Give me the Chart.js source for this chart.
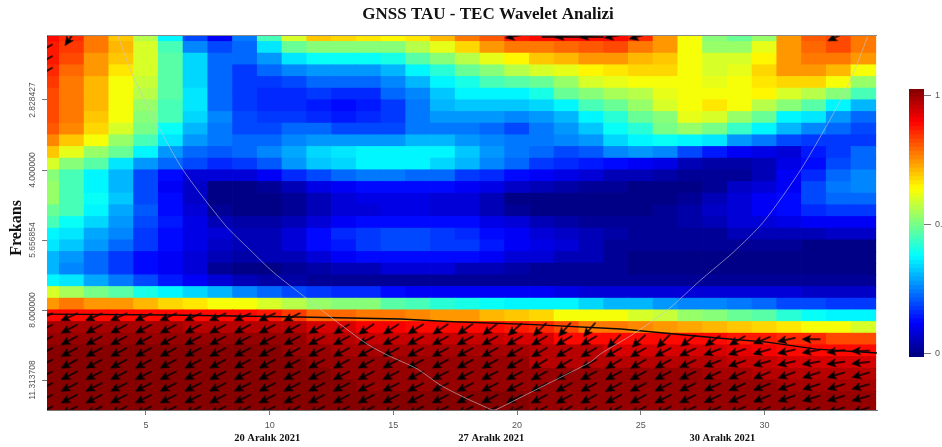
<!DOCTYPE html>
<html lang="tr">
<head>
<meta charset="utf-8">
<title>GNSS TAU - TEC Wavelet Analizi</title>
<script src="https://cdn.jsdelivr.net/npm/chart.js@4/dist/chart.umd.min.js"></script>
<style>
  html, body { margin: 0; padding: 0; background: #fff; overflow: hidden; }
  #kap { position: relative; width: 942px; height: 447px; }
  canvas { position: absolute; top: 0; display: block; filter: blur(0.5px); }
  #grafik { left: 0; }
  #lejant { left: 895px; }
</style>
</head>
<body>
<div id="kap">
  <canvas id="grafik" width="942" height="447"></canvas>
  <canvas id="lejant" width="47" height="447"></canvas>
</div>
<script>
// ==============================
// VERILER
// ==============================
const baslik = "GNSS TAU - TEC Wavelet Analizi";
const eksenBasligi = "Frekans";

const xTikleri = [5, 10, 15, 20, 25, 30];
const yTikleri = [1.5, 2, 2.5, 3, 3.5]; // log2(periyot)
const yTikEtiketleri = ["2.828427", "4.000000", "5.656854", "8.000000", "11.313708"];

const tarihEtiketleri = ["20 Aralık 2021", "27 Aralık 2021", "30 Aralık 2021"];
const tarihKonumlari = [9.9, 18.96, 28.3];

const lejantTikleri = [0, 0.5, 1];

// guc degerleri (yuzde), satirlar yukaridan asagi, 34 sutun
const guc = [
  [86,83,75,68,55,37,19,12,24,44,59,68,67,65,63,65,70,76,79,85,87,87,87,86,83,73,62,51,47,53,72,79,81,76],
  [85,82,76,70,58,44,26,19,22,35,47,51,51,50,50,55,60,66,72,75,76,78,79,80,76,72,62,53,53,60,72,78,80,75],
  [85,80,73,68,58,46,34,22,22,27,35,38,38,38,40,46,50,55,60,64,68,70,73,72,70,68,62,58,58,64,72,76,75,72],
  [83,78,72,65,58,46,34,22,18,22,25,27,27,27,31,36,42,47,51,55,58,60,64,65,66,66,62,58,60,66,72,73,70,62],
  [82,76,70,62,57,46,34,22,18,18,20,22,22,22,25,31,36,40,44,46,48,53,58,60,62,62,62,60,62,65,66,66,61,53],
  [81,76,70,62,55,46,35,23,18,17,17,18,17,17,22,25,32,36,37,37,40,47,51,54,56,60,62,62,62,64,58,55,50,44],
  [81,76,70,62,53,45,35,23,18,16,16,15,14,15,18,24,30,32,32,32,33,37,44,48,53,58,62,65,62,55,50,46,37,31],
  [80,76,68,62,51,45,33,25,20,18,18,16,15,16,18,24,27,27,27,25,27,31,37,41,47,51,60,58,53,47,37,35,27,22],
  [79,74,66,58,49,38,30,24,20,20,22,22,20,20,20,24,24,24,22,20,24,27,32,39,42,49,52,49,43,37,30,25,22,19],
  [74,68,62,53,44,35,27,24,23,23,25,27,27,28,28,30,30,27,25,24,24,25,27,34,37,38,37,35,27,24,20,18,18,18],
  [68,60,53,47,37,28,23,21,23,25,29,33,35,36,36,36,36,32,27,24,22,20,21,25,27,25,20,15,12,10,9,15,18,22],
  [58,51,46,35,27,22,20,17,18,21,27,32,34,36,37,36,34,30,25,22,18,16,15,14,12,10,6,4,4,5,10,13,19,23],
  [51,45,37,30,20,13,9,8,9,12,16,20,22,24,24,23,22,18,16,13,12,10,8,6,5,4,3,3,2,6,11,16,23,25],
  [52,45,37,30,20,12,7,1,1,2,6,10,12,13,13,13,13,12,10,7,5,4,3,2,1,1,1,2,7,9,12,19,24,25],
  [52,45,38,32,20,13,7,1,0,0,2,5,8,10,10,10,9,8,5,1,1,0,0,0,1,1,2,5,9,11,13,20,22,23],
  [48,45,37,29,21,14,8,3,1,1,2,5,8,9,10,10,9,8,5,3,1,1,0,1,1,2,4,7,9,12,13,17,18,18],
  [44,38,33,27,20,15,10,5,4,4,6,9,12,14,14,14,14,13,10,8,5,4,3,3,3,3,4,5,8,9,10,11,11,12],
  [37,35,29,25,18,13,10,8,6,6,8,13,17,18,19,20,18,17,14,11,9,7,5,4,3,3,3,3,5,5,6,6,7,7],
  [35,32,27,22,18,14,10,7,5,6,8,13,15,18,19,20,18,18,15,12,10,8,5,3,2,2,2,3,2,3,3,1,1,1],
  [31,27,22,18,14,11,8,5,4,5,6,9,11,13,14,14,14,13,11,9,8,6,5,3,1,1,1,1,1,1,1,1,0,0],
  [31,26,22,18,14,12,8,2,1,1,2,4,5,6,8,8,8,6,5,4,3,2,2,2,1,1,1,1,1,1,1,1,1,1],
  [37,35,29,24,19,15,12,9,5,4,4,3,2,2,2,2,2,2,2,2,2,2,2,2,2,2,2,2,2,2,2,2,3,3],
  [58,54,49,46,40,37,33,30,25,22,20,18,17,16,14,12,12,12,11,11,11,10,9,9,9,9,9,9,8,8,8,7,7,7],
  [73,76,73,72,70,66,65,62,61,58,55,52,50,50,46,44,42,40,39,37,37,36,33,30,30,27,25,25,24,22,20,19,18,18],
  [87,87,87,87,87,87,87,87,86,85,82,78,77,76,75,74,73,72,70,68,66,62,62,61,58,57,53,50,47,46,42,39,37,37],
  [96,96,96,96,96,96,95,94,94,94,94,91,91,89,89,87,87,87,86,85,83,80,76,75,74,73,71,70,68,67,65,62,62,58],
  [98,98,98,98,98,98,98,98,98,98,98,95,94,93,93,93,93,93,93,92,91,87,87,87,87,87,87,86,85,85,83,83,80,80],
  [99,99,99,99,99,99,99,99,99,99,98,97,96,96,96,96,96,96,96,96,94,94,94,92,92,92,91,91,90,89,87,87,87,87],
  [99,99,99,99,99,99,99,99,99,99,99,98,97,97,97,97,97,97,97,97,95,95,95,95,95,94,94,94,93,93,92,91,91,91],
  [99,99,99,99,99,99,99,99,99,99,99,99,98,98,98,98,98,98,98,98,97,97,97,97,97,97,97,96,96,95,95,94,94,94],
  [99,99,99,99,99,99,99,99,99,99,99,99,99,98,98,98,98,98,98,98,98,98,98,98,98,98,98,97,97,97,96,96,96,96],
  [99,99,99,99,99,99,99,99,99,99,99,99,99,99,99,99,99,99,99,99,98,98,98,98,98,98,98,98,98,97,97,97,97,97],
  [99,99,99,99,99,99,99,99,99,99,99,99,99,99,99,99,99,99,99,99,98,98,98,98,98,98,98,98,98,97,97,97,97,97],
];

// etki konisi (gri cizgi)
const koniX = [3.87,4.48,5.45,6.5,8.2,9.21,10.14,11.52,12.57,13.94,14.75,15.97,16.9,17.83,19,19.12,20.01,21.87,22.97,23.37,24.7,26.08,27.42,28.75,29.96,31.46,32.8,33.48,34.17];
const koniY = [1.043,1.329,1.671,2,2.393,2.571,2.729,2.921,3.064,3.243,3.321,3.421,3.536,3.621,3.714,3.714,3.636,3.471,3.371,3.314,3.171,3,2.786,2.586,2.371,2,1.593,1.357,1.05];

// anlamlilik konturu (siyah cizgi)
const konturX = [1,6,11.2,15.3,17.2,20.7,24.2,25.5,28.1,30.1,32.1,34.55];
const konturY = [3.029,3.036,3.05,3.064,3.082,3.104,3.136,3.157,3.2,3.229,3.279,3.307];
const ustKonturX = [21,23.5];
const ustKonturY = [1.05,1.05];

// oklar: her sutunda okun basladigi satir ve aci (derece, yatayin altina)
const okIlkSatir = [24,24,24,24,24,24,24,24,24,24,24,25,25,25,25,25,25,25,25,25,25,25,25,26,26,26,26,26,26,26,26,26,27,27];
const okIlkAci  = [24,24,24,24,24,24,24,24,24,25,26,30,32,34,33,32,33,35,38,42,45,48,50,45,43,45,37,35,30,22,12,0,8,2];
const okOrtaAci = [28,28,28,28,28,28,28,28,28,28,28,28,28,28,28,28,28,28,29,30,30,30,30,30,30,28,25,21,19,16,13,10,8,6];
const okAltAci  = [27,27,27,27,27,27,27,27,27,27,27,27,27,27,27,27,27,27,27,27,28,28,28,28,28,27,26,25,24,22,20,18,17,16];

// ust kenardaki tek tuk oklar
const ustOkSutun = [1,1,1,1,2,20,22,23,24,25,33];
const ustOkSatir = [0,1,2,3,0,0,0,0,0,0,0];
const ustOkAci   = [30,30,30,30,55,10,8,8,10,15,25];

// ==============================
// YARDIMCILAR
// ==============================
const satirMerkez = (satir) => (12.5 + satir) / 12;

// 64 seviyeli jet renk skalasi
function jetRenk(seviye) {
  const t = (seviye + 0.5) / 64;
  const kanal = (d) => Math.round(255 * Math.max(0, Math.min(1, 1.5 - Math.abs(4 * t - d))));
  return `rgb(${kanal(3)},${kanal(2)},${kanal(1)})`;
}
function degerRengi(yuzde) {
  return jetRenk(Math.min(63, Math.floor((yuzde / 100) * 64)));
}

// hucreler: hafif tasma birakiyorum ki aralarinda beyaz cizgi olmasin
const hucreler = [];
guc.forEach((satir, r) => {
  satir.forEach((deger, c) => {
    hucreler.push({
      x: c + 1,
      y: [satirMerkez(r) - 1 / 24 - 0.004, satirMerkez(r) + 1 / 24 + 0.004],
      v: deger,
    });
  });
});

const oklar = [];
ustOkSutun.forEach((c, i) => {
  oklar.push({ x: c, y: satirMerkez(ustOkSatir[i]), aci: ustOkAci[i] });
});
okIlkSatir.forEach((ilk, i) => {
  for (let r = ilk; r < guc.length; r++) {
    let aci = okOrtaAci[i];
    if (r === ilk) aci = okIlkAci[i];
    else if (r >= 29) aci = okAltAci[i];
    oklar.push({ x: i + 1, y: satirMerkez(r), aci });
  }
});

// ok resmi, sola bakiyor. Chart.js bunu pointStyle olarak cevirerek ciziyor
function okResmi() {
  const c = document.createElement("canvas");
  c.width = 44;
  c.height = 44;
  const g = c.getContext("2d");
  g.translate(22, 22);
  g.fillStyle = "#000";
  g.strokeStyle = "#000";
  g.lineWidth = 1.5;
  g.beginPath();
  g.moveTo(-6, 0);
  g.lineTo(6.5, 0);
  g.stroke();
  g.beginPath();
  g.moveTo(-12.5, 0);
  g.lineTo(-2.5, -4.5);
  g.lineTo(-5, 0);
  g.lineTo(-2.5, 4.5);
  g.closePath();
  g.fill();
  return c;
}

const noktalar = (xler, yler) => xler.map((x, i) => ({ x, y: yler[i] }));

// ==============================
// EK CIZIMLER
// ==============================
const kenarVeMetin = {
  id: "kenarVeMetin",
  afterLayout(chart) {
    // baslik plot alaninin ortasinda degil, biraz sagda
    chart.titleBlock.left = 99;
  },
  afterDraw(chart) {
    const { ctx, chartArea: a, scales } = chart;
    ctx.save();
    ctx.strokeStyle = "#8a8a8a";
    ctx.lineWidth = 1;
    ctx.beginPath();
    ctx.moveTo(a.left, a.top - 0.5);
    ctx.lineTo(a.right, a.top - 0.5);
    ctx.stroke();

    ctx.fillStyle = "#111";
    ctx.textAlign = "center";
    ctx.textBaseline = "middle";
    ctx.font = "bold 10.5px 'Liberation Serif'";
    tarihEtiketleri.forEach((yazi, i) => {
      ctx.fillText(yazi, scales.x.getPixelForValue(tarihKonumlari[i]), 438.5);
    });

    ctx.translate(17, 228);
    ctx.rotate(-Math.PI / 2);
    ctx.font = "bold 16px 'Liberation Serif'";
    ctx.fillText(eksenBasligi, 0, 0);
    ctx.restore();
  },
};

// ==============================
// ANA GRAFIK
// ==============================
new Chart(document.getElementById("grafik"), {
  type: "bar",
  plugins: [kenarVeMetin],
  data: {
    datasets: [
      {
        type: "line",
        order: 0,
        data: noktalar(koniX, koniY),
        borderColor: "rgba(200,200,210,0.6)",
        borderWidth: 1,
        pointRadius: 0,
        tension: 0.25,
      },
      {
        type: "line",
        order: 1,
        data: noktalar(konturX, konturY),
        borderColor: "#0a0a0a",
        borderWidth: 1.4,
        pointRadius: 0,
      },
      {
        type: "line",
        order: 1,
        data: noktalar(ustKonturX, ustKonturY),
        borderColor: "#0a0a0a",
        borderWidth: 1.4,
        pointRadius: 0,
      },
      {
        type: "scatter",
        order: 2,
        data: oklar,
        clip: 0,
        pointStyle: okResmi(),
        pointRadius: 10,
        pointRotation: (ctx) => (ctx.raw ? -ctx.raw.aci : 0),
      },
      {
        type: "bar",
        order: 3,
        data: hucreler,
        backgroundColor: (ctx) => (ctx.raw ? degerRengi(ctx.raw.v) : "#fff"),
        borderWidth: 0,
        barPercentage: 1.03,
        categoryPercentage: 1,
      },
    ],
  },
  options: {
    responsive: false,
    animation: false,
    events: [],
    layout: { padding: { left: 0, top: 0, right: 65, bottom: 0 } },
    plugins: {
      legend: { display: false },
      tooltip: { enabled: false },
      title: {
        display: true,
        text: baslik,
        color: "#111",
        font: { family: "'Liberation Serif'", size: 17, weight: "bold", lineHeight: 1.2 },
        padding: { top: 4, bottom: 11.6 },
      },
    },
    scales: {
      x: {
        type: "linear",
        offset: false,
        min: 1,
        max: 34.55,
        afterBuildTicks: (s) => { s.ticks = xTikleri.map((value) => ({ value })); },
        afterFit: (s) => { s.height = 37; },
        grid: { offset: false, drawOnChartArea: false, tickLength: 5, color: "#777" },
        border: { color: "#777" },
        ticks: {
          color: "#555",
          font: { family: "'Liberation Sans'", size: 9 },
          padding: 5,
          maxRotation: 0,
        },
      },
      y: {
        type: "linear",
        reverse: true,
        min: 1.043,
        max: 3.714,
        afterBuildTicks: (s) => { s.ticks = yTikleri.map((value) => ({ value })); },
        afterFit: (s) => { s.width = 47; },
        grid: { drawOnChartArea: false, tickLength: 5, color: "#777" },
        border: { color: "#777" },
        ticks: {
          color: "#555",
          font: { family: "'Liberation Sans'", size: 8.5 },
          minRotation: 90,
          maxRotation: 90,
          crossAlign: "center",
          padding: -10.5,
          callback: (deger) => yTikEtiketleri[yTikleri.indexOf(deger)],
        },
      },
    },
  },
});

// ==============================
// RENK LEJANTI
// ==============================
const lejantAlt = -0.012;
const lejantUst = 1.027;
const lejantSeviyeleri = Array.from({ length: 64 }, (_, i) => i);
const adim = (lejantUst - lejantAlt) / 64;

new Chart(document.getElementById("lejant"), {
  type: "bar",
  data: {
    labels: [""],
    datasets: lejantSeviyeleri.map((i) => ({
      data: [[lejantAlt + i * adim, lejantAlt + (i + 1) * adim + 0.002]],
      backgroundColor: jetRenk(i),
      borderWidth: 0,
      grouped: false,
      barPercentage: 1,
      categoryPercentage: 1,
    })),
  },
  options: {
    responsive: false,
    animation: false,
    events: [],
    layout: { padding: { left: 14, top: 89, right: 0, bottom: 90 } },
    plugins: { legend: { display: false }, tooltip: { enabled: false } },
    scales: {
      x: { display: false },
      y: {
        position: "right",
        min: lejantAlt,
        max: lejantUst,
        afterBuildTicks: (s) => { s.ticks = lejantTikleri.map((value) => ({ value })); },
        afterFit: (s) => { s.width = 18; },
        grid: { drawOnChartArea: false, tickLength: 7, color: "#777" },
        border: { display: false },
        ticks: {
          color: "#555",
          font: { family: "'Liberation Sans'", size: 9 },
          padding: 4,
          callback: (deger) => String(deger),
        },
      },
    },
  },
});
</script>
</body>
</html>
